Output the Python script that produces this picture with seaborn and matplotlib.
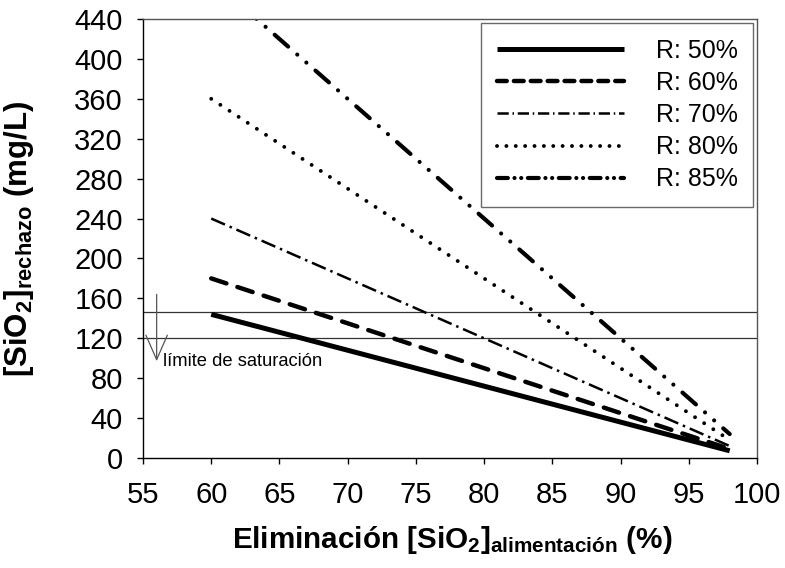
import numpy as np
import pandas as pd
import matplotlib
matplotlib.use("Agg")
import matplotlib.pyplot as plt
from matplotlib.lines import Line2D
import seaborn as sns

# ---- data ----
eliminacion = [60, 98]
r50 = [144, 7.2]
r60 = [180, 9]
r70 = [240, 12]
r80 = [360, 18]
r85 = [480, 24]
series_names = ["R: 50%", "R: 60%", "R: 70%", "R: 80%", "R: 85%"]
limites = [146, 120]
x_ticks = [55, 60, 65, 70, 75, 80, 85, 90, 95, 100]
y_ticks = [0, 40, 80, 120, 160, 200, 240, 280, 320, 360, 400, 440]

rows = []
for name, vals in zip(series_names, [r50, r60, r70, r80, r85]):
    for xv, yv in zip(eliminacion, vals):
        rows.append({"x": xv, "y": yv, "R": name})
df = pd.DataFrame(rows)

sns.set_theme(style="white")
plt.rcParams["font.family"] = ["Liberation Sans", "DejaVu Sans"]
plt.rcParams["mathtext.fontset"] = "custom"
plt.rcParams["mathtext.rm"] = "Liberation Sans:bold"
plt.rcParams["mathtext.bf"] = "Liberation Sans:bold"
plt.rcParams["mathtext.it"] = "Liberation Sans:bold"
plt.rcParams["mathtext.sf"] = "Liberation Sans:bold"
for k in ["text.color", "axes.labelcolor", "xtick.color", "ytick.color"]:
    plt.rcParams[k] = "black"

fig = plt.figure(figsize=(7.85, 5.68), dpi=100)
ax = fig.add_axes([143/785, 1-458/568, (757-143)/785, (458-19)/568])

palette = {n: "black" for n in series_names}
dashes = {
    "R: 50%": "",
    "R: 60%": (3.6, 2.6),
    "R: 70%": (6.0, 2.0, 1.0, 2.0),
    "R: 80%": (0.01, 2.8),
    "R: 85%": (4.3, 2.9, 0.01, 2.9, 0.01, 2.9),
}
sizes = {"R: 50%": 3.6, "R: 60%": 3.2, "R: 70%": 1.8, "R: 80%": 2.8, "R: 85%": 3.0}
caps = {"R: 50%": "butt", "R: 60%": "round", "R: 70%": "butt", "R: 80%": "round", "R: 85%": "round"}

sns.lineplot(data=df, x="x", y="y", hue="R", style="R", size="R",
             palette=palette, dashes=dashes, sizes=sizes, ax=ax, legend=False,
             hue_order=series_names, style_order=series_names, size_order=series_names)

for line, name in zip(ax.lines, series_names):
    line.set_dash_capstyle(caps[name])
    line.set_solid_capstyle("butt")

for lv in limites:
    ax.axhline(lv, color="#333333", lw=0.9, zorder=1)

ax.annotate("", xy=(56, 97), xytext=(56, 164),
            arrowprops=dict(arrowstyle="->,head_length=0.8,head_width=0.35",
                            color="#555555", lw=0.9, mutation_scale=22,
                            shrinkA=0, shrinkB=0))
ax.text(56.45, 97, "límite de saturación", fontsize=13.2, va="center", ha="left", color="black")

ax.set_xlim(55, 100)
ax.set_ylim(0, 440)
ax.set_xticks(x_ticks)
ax.set_yticks(y_ticks)
ax.tick_params(axis="both", which="major", labelsize=21, length=4.5, width=1,
               direction="out", left=True, bottom=True, colors="black")
ax.tick_params(axis="y", pad=10)
ax.tick_params(axis="x", pad=12)

for s in ["left", "bottom"]:
    ax.spines[s].set_color("black")
    ax.spines[s].set_linewidth(1)
for s in ["top", "right"]:
    ax.spines[s].set_color("#555555")
    ax.spines[s].set_linewidth(1)

ax.set_xlabel(r"Eliminación [SiO$_{\mathrm{2}}$]$_{\mathrm{alimentación}}$ (%)",
              fontsize=21.3, fontweight="bold")
ax.set_ylabel(r"[SiO$_{\mathrm{2}}$]$_{\mathrm{rechazo}}$ (mg/L)",
              fontsize=22.5, fontweight="bold")
ax.xaxis.set_label_coords(0.503, -0.15)
ax.yaxis.set_label_coords(-0.175, 0.5)

# legend handles (Excel-like, shorter patterns)
leg_dashes = {
    "R: 50%": None,
    "R: 60%": (2.2, 1.6),
    "R: 70%": (4.5, 1.5, 0.6, 1.5),
    "R: 80%": (0.01, 2.4),
    "R: 85%": (2.6, 1.6, 0.01, 1.6, 0.01, 1.6),
}
handles = []
for name in series_names:
    kw = dict(color="black", lw=sizes[name], dash_capstyle=caps[name], solid_capstyle="butt")
    if leg_dashes[name] is not None:
        kw["dashes"] = leg_dashes[name]
    handles.append(Line2D([0], [1], **kw))

leg = ax.legend(handles=handles, labels=series_names, loc="upper right",
                bbox_to_anchor=(753/785, 1-23/568), bbox_transform=fig.transFigure,
                borderaxespad=0, fontsize=18, frameon=True, fancybox=False,
                handlelength=5.1, handletextpad=1.25, labelspacing=0.33,
                borderpad=0.62, edgecolor="#444444")
leg.get_frame().set_linewidth(1)

fig.savefig("out.png", dpi=100, facecolor="white")
